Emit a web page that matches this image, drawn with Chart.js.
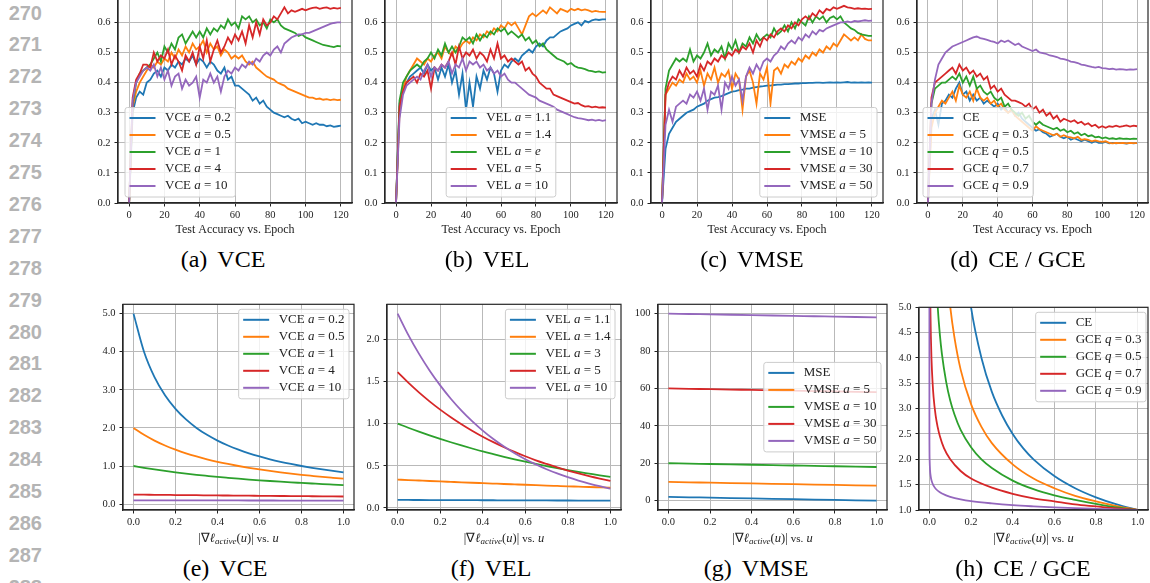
<!DOCTYPE html>
<html>
<head>
<meta charset="utf-8">
<script src="https://cdn.jsdelivr.net/npm/chart.js@4.4.1/dist/chart.umd.min.js"></script>
<style>
  html, body { margin: 0; padding: 0; background: #fff; }
  #page { position: relative; width: 1150px; height: 583px; overflow: hidden; background: #fff; }
  .ln { position: absolute; left: 0; width: 42px; text-align: right; font: bold 20px "Liberation Sans", Arial, sans-serif; color: #b4b4b4; transform: translateY(-50%); line-height: 1; }
  .cap { position: absolute; font: 24px "Liberation Serif", "Times New Roman", serif; color: #000; transform: translate(-50%, -50%); white-space: nowrap; line-height: 1; }
  .cap span { display: inline-block; width: 10px; }
  .xt { position: absolute; font: 12.5px "Liberation Serif", "Times New Roman", serif; color: #222; transform: translate(-50%, -50%); white-space: nowrap; line-height: 1; }
  .xt sub { font-size: 0.72em; vertical-align: -0.3em; line-height: 0; }
  .xt small { font-size: 0.88em; }
  .pane { position: absolute; }
</style>
</head>
<body>
<div id="page"></div>
<script>
// ---- top row: test accuracy every 2 epochs ----
const epochs = [0,2,4,6,8,10,12,14,16,18,20,22,24,26,28,30,32,34,36,38,40,42,44,46,48,50,52,54,56,58,
  60,62,64,66,68,70,72,74,76,78,80,82,84,86,88,90,92,94,96,98,100,102,104,106,108,110,112,114,116,118,120];

const vceA02 = [0.00,0.30,0.35,0.37,0.36,0.40,0.41,0.43,0.44,0.42,
  0.45,0.44,0.46,0.45,0.47,0.46,0.48,0.47,0.49,0.46,
  0.48,0.47,0.45,0.47,0.46,0.44,0.43,0.45,0.41,0.42,
  0.39,0.39,0.38,0.37,0.36,0.34,0.35,0.33,0.34,0.32,
  0.31,0.30,0.295,0.29,0.285,0.29,0.28,0.275,0.28,0.265,
  0.27,0.265,0.26,0.265,0.26,0.26,0.255,0.258,0.253,0.255,0.257];
const vceA05 = [0.00,0.32,0.37,0.40,0.42,0.44,0.46,0.45,0.47,0.46,
  0.48,0.47,0.50,0.48,0.51,0.49,0.52,0.50,0.53,0.51,
  0.52,0.54,0.50,0.53,0.51,0.52,0.49,0.51,0.50,0.48,
  0.49,0.48,0.49,0.47,0.46,0.47,0.45,0.44,0.43,0.42,
  0.415,0.41,0.40,0.395,0.39,0.38,0.375,0.37,0.365,0.36,
  0.355,0.35,0.35,0.345,0.347,0.343,0.345,0.342,0.344,0.342,0.343];
const vceA1 = [0.00,0.33,0.40,0.43,0.44,0.45,0.46,0.48,0.50,0.47,
  0.52,0.50,0.53,0.51,0.55,0.56,0.53,0.55,0.57,0.55,
  0.57,0.55,0.58,0.56,0.58,0.57,0.59,0.58,0.61,0.59,
  0.60,0.58,0.62,0.61,0.62,0.60,0.61,0.59,0.60,0.58,
  0.61,0.60,0.61,0.59,0.58,0.575,0.57,0.565,0.555,0.56,
  0.55,0.545,0.54,0.535,0.53,0.525,0.523,0.52,0.518,0.522,0.52];
const vceA4 = [0.00,0.35,0.41,0.43,0.46,0.46,0.45,0.50,0.47,0.49,
  0.48,0.51,0.46,0.49,0.47,0.44,0.49,0.47,0.50,0.46,
  0.52,0.48,0.54,0.47,0.51,0.54,0.50,0.52,0.55,0.53,
  0.56,0.54,0.57,0.53,0.59,0.55,0.60,0.56,0.61,0.59,
  0.60,0.62,0.61,0.63,0.65,0.63,0.64,0.635,0.64,0.645,
  0.64,0.645,0.648,0.65,0.645,0.648,0.65,0.645,0.648,0.646,0.648];
const vceA10 = [0.00,0.34,0.40,0.42,0.44,0.45,0.44,0.46,0.42,0.45,
  0.41,0.44,0.39,0.42,0.43,0.38,0.41,0.39,0.40,0.42,
  0.35,0.41,0.40,0.43,0.40,0.42,0.37,0.42,0.44,0.43,
  0.45,0.44,0.46,0.45,0.47,0.46,0.48,0.47,0.49,0.50,
  0.49,0.51,0.52,0.50,0.53,0.54,0.55,0.555,0.56,0.56,
  0.565,0.565,0.57,0.575,0.58,0.585,0.59,0.595,0.598,0.60,0.60];

const velA11 = [0.00,0.33,0.38,0.40,0.42,0.43,0.44,0.45,0.43,0.46,
  0.44,0.45,0.41,0.45,0.42,0.46,0.40,0.44,0.36,0.43,
  0.31,0.40,0.32,0.42,0.38,0.44,0.41,0.45,0.43,0.37,
  0.44,0.46,0.45,0.47,0.48,0.47,0.49,0.50,0.51,0.50,
  0.52,0.53,0.52,0.54,0.55,0.55,0.56,0.57,0.575,0.58,
  0.59,0.595,0.60,0.59,0.605,0.60,0.607,0.61,0.608,0.61,0.61];
const velA14 = [0.00,0.30,0.38,0.42,0.44,0.46,0.48,0.47,0.46,0.48,
  0.47,0.49,0.50,0.48,0.52,0.50,0.49,0.52,0.51,0.53,
  0.54,0.53,0.55,0.54,0.56,0.55,0.57,0.56,0.58,0.57,
  0.59,0.58,0.60,0.59,0.60,0.58,0.56,0.59,0.62,0.63,
  0.62,0.63,0.64,0.63,0.65,0.64,0.63,0.645,0.64,0.635,
  0.645,0.64,0.645,0.64,0.643,0.64,0.635,0.638,0.636,0.635,0.635];
const velAe = [0.00,0.34,0.40,0.42,0.44,0.45,0.46,0.45,0.47,0.48,
  0.50,0.48,0.51,0.49,0.53,0.50,0.52,0.50,0.52,0.55,
  0.54,0.55,0.53,0.56,0.54,0.56,0.55,0.57,0.56,0.58,
  0.57,0.58,0.56,0.57,0.56,0.55,0.56,0.54,0.55,0.53,
  0.54,0.52,0.53,0.51,0.50,0.49,0.48,0.475,0.47,0.46,
  0.465,0.455,0.45,0.448,0.445,0.44,0.438,0.435,0.437,0.433,0.435];
const velA5 = [0.00,0.32,0.37,0.40,0.41,0.42,0.40,0.43,0.42,0.44,
  0.38,0.45,0.44,0.46,0.45,0.47,0.50,0.46,0.52,0.48,
  0.50,0.49,0.51,0.48,0.50,0.49,0.47,0.51,0.48,0.53,
  0.48,0.49,0.47,0.48,0.47,0.46,0.47,0.44,0.45,0.43,
  0.42,0.40,0.39,0.38,0.38,0.36,0.355,0.35,0.345,0.34,
  0.335,0.33,0.332,0.325,0.32,0.322,0.318,0.32,0.317,0.318,0.317];
const velA10 = [0.00,0.28,0.36,0.39,0.40,0.41,0.42,0.41,0.44,0.46,
  0.42,0.45,0.44,0.46,0.45,0.47,0.43,0.46,0.45,0.48,
  0.44,0.47,0.46,0.47,0.45,0.46,0.44,0.45,0.43,0.44,
  0.42,0.43,0.41,0.40,0.40,0.39,0.38,0.37,0.36,0.355,
  0.35,0.34,0.335,0.33,0.325,0.32,0.31,0.305,0.30,0.295,
  0.29,0.285,0.282,0.28,0.278,0.275,0.277,0.274,0.276,0.273,0.275];

const mseAcc = [0.00,0.18,0.23,0.25,0.27,0.28,0.29,0.30,0.305,0.31,
  0.32,0.325,0.33,0.34,0.345,0.35,0.352,0.355,0.36,0.365,
  0.37,0.372,0.375,0.377,0.38,0.38,0.383,0.385,0.387,0.388,
  0.39,0.39,0.392,0.393,0.393,0.395,0.395,0.396,0.397,0.397,
  0.398,0.398,0.399,0.399,0.40,0.40,0.399,0.40,0.401,0.40,
  0.401,0.40,0.401,0.402,0.40,0.401,0.40,0.401,0.40,0.401,0.40];
const vmseA5 = [0.00,0.36,0.38,0.40,0.39,0.41,0.40,0.43,0.41,0.42,
  0.40,0.44,0.39,0.43,0.41,0.45,0.40,0.43,0.42,0.44,
  0.38,0.43,0.41,0.31,0.42,0.44,0.40,0.33,0.43,0.41,
  0.45,0.33,0.44,0.45,0.43,0.46,0.45,0.47,0.46,0.48,
  0.47,0.49,0.48,0.50,0.49,0.51,0.50,0.52,0.51,0.53,
  0.52,0.54,0.56,0.55,0.54,0.55,0.54,0.56,0.545,0.54,0.54];
const vmseA10 = [0.00,0.38,0.44,0.46,0.48,0.47,0.48,0.47,0.51,0.47,
  0.49,0.48,0.50,0.53,0.49,0.51,0.50,0.52,0.48,0.53,
  0.51,0.54,0.50,0.53,0.52,0.55,0.53,0.56,0.54,0.55,
  0.56,0.55,0.58,0.56,0.57,0.59,0.57,0.60,0.58,0.61,
  0.60,0.59,0.62,0.60,0.62,0.61,0.62,0.60,0.615,0.62,
  0.61,0.62,0.60,0.59,0.58,0.575,0.565,0.56,0.558,0.555,0.555];
const vmseA30 = [0.00,0.36,0.40,0.42,0.41,0.44,0.42,0.45,0.43,0.44,
  0.42,0.46,0.44,0.47,0.46,0.48,0.47,0.49,0.48,0.50,
  0.49,0.51,0.50,0.52,0.51,0.53,0.50,0.54,0.52,0.55,
  0.54,0.56,0.55,0.57,0.58,0.57,0.59,0.58,0.60,0.59,
  0.61,0.62,0.61,0.63,0.62,0.64,0.63,0.645,0.64,0.65,
  0.645,0.65,0.655,0.65,0.648,0.645,0.647,0.645,0.646,0.644,0.645];
const vmseA50 = [0.00,0.26,0.31,0.27,0.32,0.33,0.34,0.33,0.36,0.35,
  0.37,0.34,0.38,0.31,0.37,0.36,0.39,0.31,0.40,0.38,
  0.42,0.39,0.41,0.34,0.42,0.45,0.43,0.46,0.44,0.47,
  0.48,0.47,0.49,0.50,0.52,0.51,0.53,0.54,0.53,0.55,
  0.54,0.56,0.55,0.57,0.56,0.575,0.57,0.58,0.585,0.59,
  0.595,0.60,0.60,0.603,0.60,0.605,0.603,0.605,0.607,0.605,0.606];

const ceAcc = [0.00,0.28,0.31,0.26,0.33,0.34,0.36,0.35,0.38,0.40,
  0.36,0.37,0.34,0.36,0.34,0.35,0.33,0.34,0.33,0.32,
  0.33,0.31,0.32,0.30,0.31,0.29,0.30,0.28,0.27,0.26,
  0.25,0.24,0.245,0.235,0.23,0.22,0.225,0.23,0.22,0.215,
  0.22,0.21,0.215,0.21,0.205,0.21,0.205,0.20,0.205,0.20,
  0.20,0.203,0.198,0.20,0.198,0.20,0.199,0.197,0.20,0.198,0.20];
const gceQ03 = [0.00,0.25,0.30,0.32,0.34,0.33,0.35,0.37,0.34,0.39,
  0.36,0.35,0.37,0.34,0.38,0.35,0.34,0.35,0.33,0.34,
  0.32,0.33,0.31,0.30,0.31,0.29,0.28,0.27,0.26,0.25,
  0.24,0.255,0.245,0.24,0.235,0.23,0.225,0.23,0.22,0.225,
  0.22,0.218,0.215,0.22,0.21,0.212,0.21,0.205,0.208,0.205,
  0.203,0.205,0.20,0.198,0.20,0.199,0.20,0.198,0.20,0.199,0.199];
const gceQ05 = [0.00,0.33,0.38,0.39,0.40,0.40,0.41,0.42,0.41,0.43,
  0.40,0.42,0.39,0.42,0.38,0.39,0.37,0.36,0.37,0.35,
  0.34,0.35,0.32,0.33,0.31,0.30,0.29,0.30,0.28,0.29,
  0.27,0.26,0.27,0.26,0.255,0.25,0.245,0.25,0.24,0.245,
  0.235,0.24,0.23,0.235,0.225,0.23,0.222,0.225,0.218,0.22,
  0.215,0.218,0.213,0.215,0.212,0.215,0.213,0.214,0.212,0.214,0.213];
const gceQ07 = [0.00,0.35,0.40,0.41,0.42,0.43,0.44,0.45,0.43,0.46,
  0.44,0.45,0.43,0.44,0.42,0.43,0.41,0.42,0.38,0.39,
  0.37,0.38,0.36,0.35,0.34,0.34,0.335,0.33,0.32,0.33,
  0.31,0.32,0.30,0.31,0.29,0.30,0.28,0.29,0.27,0.28,
  0.275,0.27,0.275,0.265,0.27,0.26,0.265,0.255,0.26,0.25,
  0.255,0.25,0.255,0.253,0.257,0.253,0.255,0.258,0.254,0.257,0.255];
const gceQ09 = [0.00,0.33,0.41,0.46,0.48,0.50,0.51,0.52,0.525,0.53,
  0.535,0.54,0.545,0.55,0.553,0.548,0.545,0.542,0.538,0.535,
  0.53,0.54,0.535,0.54,0.532,0.525,0.53,0.52,0.515,0.51,
  0.505,0.51,0.50,0.498,0.495,0.49,0.488,0.485,0.48,0.478,
  0.475,0.47,0.468,0.465,0.46,0.458,0.455,0.452,0.45,0.452,
  0.448,0.447,0.445,0.446,0.443,0.445,0.444,0.442,0.444,0.443,0.445];

// ---- bottom row: gradient magnitude vs u ----
const uFine = [0,0.05,0.1,0.15,0.2,0.25,0.3,0.35,0.4,0.45,0.5,0.55,0.6,0.65,0.7,0.75,0.8,0.85,0.9,0.95,1];
const uCoarse = [0,0.1,0.2,0.3,0.4,0.5,0.6,0.7,0.8,0.9,1];

const vceGrad02 = [5.000,4.000,3.333,2.857,2.500,2.222,2.000,1.818,1.667,1.538,1.429,1.333,1.250,1.176,1.111,1.053,1.000,0.952,0.909,0.870,0.833];
const vceGrad05 = [2.000,1.818,1.667,1.538,1.429,1.333,1.250,1.176,1.111,1.053,1.000,0.952,0.909,0.870,0.833,0.800,0.769,0.741,0.714,0.690,0.667];
const vceGrad1 = [1.000,0.952,0.909,0.870,0.833,0.800,0.769,0.741,0.714,0.690,0.667,0.645,0.625,0.606,0.588,0.571,0.556,0.541,0.526,0.513,0.500];
const vceGrad4 = [0.250,0.247,0.244,0.241,0.238,0.235,0.233,0.230,0.227,0.225,0.222,0.220,0.217,0.215,0.213,0.211,0.208,0.206,0.204,0.202,0.200];
const vceGrad10 = [0.100,0.0995,0.0990,0.0985,0.0980,0.0976,0.0971,0.0966,0.0962,0.0957,0.0952,0.0948,0.0943,0.0939,0.0935,0.0930,0.0926,0.0922,0.0917,0.0913,0.0909];

const velGrad11 = [0.0953,0.0949,0.0944,0.0940,0.0935,0.0931,0.0926,0.0922,0.0917,0.0913,0.0909,0.0904,0.0900,0.0896,0.0891,0.0887,0.0883,0.0879,0.0875,0.0870,0.0866];
const velGrad14 = [0.3365,0.3309,0.3254,0.3199,0.3146,0.3094,0.3042,0.2991,0.2942,0.2893,0.2844,0.2797,0.2750,0.2704,0.2659,0.2615,0.2571,0.2529,0.2486,0.2445,0.2404];
const velGrad3 = [1.000,0.951,0.905,0.861,0.819,0.779,0.741,0.705,0.670,0.638,0.607,0.577,0.549,0.522,0.497,0.472,0.449,0.427,0.407,0.387,0.368];
const velGrad5 = [1.609,1.485,1.370,1.264,1.166,1.076,0.993,0.916,0.845,0.780,0.720,0.664,0.613,0.565,0.522,0.481,0.444,0.410,0.378,0.349,0.322];
const velGrad10 = [2.303,2.052,1.829,1.630,1.453,1.295,1.154,1.029,0.917,0.817,0.728,0.649,0.578,0.516,0.459,0.409,0.365,0.325,0.290,0.258,0.230];

const mseGrad = [2.0,1.8,1.6,1.4,1.2,1.0,0.8,0.6,0.4,0.2,0.0];
const vmseGrad5 = [10.0,9.8,9.6,9.4,9.2,9.0,8.8,8.6,8.4,8.2,8.0];
const vmseGrad10 = [20.0,19.8,19.6,19.4,19.2,19.0,18.8,18.6,18.4,18.2,18.0];
const vmseGrad30 = [60.0,59.8,59.6,59.4,59.2,59.0,58.8,58.6,58.4,58.2,58.0];
const vmseGrad50 = [100.0,99.8,99.6,99.4,99.2,99.0,98.8,98.6,98.4,98.2,98.0];

const ceU = [0.15,0.2,0.25,0.3,0.35,0.4,0.45,0.5,0.6,0.7,0.8,0.9,1.0];
const ceGrad = [6.67,5.0,4.0,3.33,2.86,2.5,2.22,2.0,1.67,1.43,1.25,1.11,1.0];
const gce03U = [0.08,0.1,0.12,0.15,0.2,0.25,0.3,0.4,0.5,0.6,0.7,0.8,0.9,1.0];
const gce03Grad = [5.86,5.01,4.41,3.77,3.09,2.64,2.32,1.90,1.62,1.43,1.28,1.17,1.077,1.0];
const gce05U = [0.03,0.04,0.05,0.06,0.08,0.1,0.12,0.15,0.2,0.25,0.3,0.4,0.5,0.6,0.7,0.8,0.9,1.0];
const gce05Grad = [5.77,5.0,4.47,4.08,3.54,3.16,2.89,2.58,2.24,2.0,1.83,1.58,1.41,1.29,1.20,1.12,1.05,1.0];
const gce07U = [0.004,0.005,0.007,0.01,0.015,0.02,0.03,0.04,0.05,0.07,0.1,0.15,0.2,0.3,0.4,0.5,0.6,0.7,0.8,0.9,1.0];
const gce07Grad = [5.24,4.90,4.43,3.98,3.53,3.23,2.86,2.63,2.46,2.22,2.0,1.77,1.62,1.44,1.32,1.23,1.17,1.11,1.07,1.03,1.0];
const gce09U = [0.0000001,0.000001,0.00001,0.0001,0.001,0.003,0.006,0.01,0.02,0.03,0.05,0.08,0.1,0.15,0.2,0.3,0.4,0.5,0.6,0.7,0.8,0.9,1.0];
const gce09Grad = [5.01,3.98,3.16,2.51,2.0,1.79,1.67,1.585,1.48,1.42,1.35,1.29,1.26,1.21,1.175,1.13,1.096,1.072,1.052,1.036,1.023,1.011,1.0];

// ---- labels and ticks ----
const vceLabels = ['VCE a = 0.2', 'VCE a = 0.5', 'VCE a = 1', 'VCE a = 4', 'VCE a = 10'];
const velAccLabels = ['VEL a = 1.1', 'VEL a = 1.4', 'VEL a = e', 'VEL a = 5', 'VEL a = 10'];
const velGradLabels = ['VEL a = 1.1', 'VEL a = 1.4', 'VEL a = 3', 'VEL a = 5', 'VEL a = 10'];
const vmseLabels = ['MSE', 'VMSE a = 5', 'VMSE a = 10', 'VMSE a = 30', 'VMSE a = 50'];
const gceLabels = ['CE', 'GCE q = 0.3', 'GCE q = 0.5', 'GCE q = 0.7', 'GCE q = 0.9'];

const epochTicks = [0, 20, 40, 60, 80, 100, 120];
const accTicks = [0, 0.1, 0.2, 0.3, 0.4, 0.5, 0.6];
const uTicks = [0, 0.2, 0.4, 0.6, 0.8, 1.0];
const vceGradTicks = [0, 1, 2, 3, 4, 5];
const velGradTicks = [0, 0.5, 1.0, 1.5, 2.0];
const vmseGradTicks = [0, 20, 40, 60, 80, 100];
const gceGradTicks = [1.0, 1.5, 2.0, 2.5, 3.0, 3.5, 4.0, 4.5, 5.0];

const captionTags = ['(a)', '(b)', '(c)', '(d)', '(e)', '(f)', '(g)', '(h)'];
const captionNames = ['VCE', 'VEL', 'VMSE', 'CE / GCE', 'VCE', 'VEL', 'VMSE', 'CE / GCE'];
const lineNumbers = [270,271,272,273,274,275,276,277,278,279,280,281,282,283,284,285,286,287,288];

const colors = ['#1f77b4', '#ff7f0e', '#2ca02c', '#d62728', '#9467bd'];
const SERIF = '"Liberation Serif", "Times New Roman", serif';
const INK = '#222';
const GRID = '#b9b9b9';
const SPINE = '#262626';

const page = document.getElementById('page');

// legend label: single letters become math italic
function labelParts(label) {
  return label.split(' ').map((t, i) => ({ text: (i ? ' ' : '') + t, italic: /^[aqe]$/.test(t) }));
}
function partFont(p, size) {
  return (p.italic ? 'italic ' : '') + size + 'px ' + SERIF;
}

function roundBox(ctx, x, y, w, h, r) {
  ctx.beginPath();
  ctx.moveTo(x + r, y);
  ctx.lineTo(x + w - r, y);
  ctx.arcTo(x + w, y, x + w, y + r, r);
  ctx.lineTo(x + w, y + h - r);
  ctx.arcTo(x + w, y + h, x + w - r, y + h, r);
  ctx.lineTo(x + r, y + h);
  ctx.arcTo(x, y + h, x, y + h - r, r);
  ctx.lineTo(x, y + r);
  ctx.arcTo(x, y, x + r, y, r);
  ctx.closePath();
}

function drawLegend(chart, o) {
  const { ctx, chartArea: a } = chart;
  const size = 13, rowH = 17, padTop = 10.5, padBot = 11, handle = 26;
  const items = chart.data.datasets.map(d => ({ parts: labelParts(d.label), color: d.borderColor }));
  let maxW = 0;
  items.forEach(it => {
    let w = 0;
    it.parts.forEach(p => { ctx.font = partFont(p, size); w += ctx.measureText(p.text).width; });
    maxW = Math.max(maxW, w);
  });
  const bw = 4.5 + handle + 9.5 + maxW + 4.5;
  const bh = padTop + (items.length - 1) * rowH + padBot;
  let bx, by;
  if (o.anchor === 'll') { bx = a.left + o.dx; by = a.bottom - o.dy - bh; }
  else if (o.anchor === 'lc') { bx = (a.left + a.right) / 2 - bw / 2; by = a.bottom - o.dy - bh; }
  else if (o.anchor === 'lr') { bx = a.right - o.dx - bw; by = a.bottom - o.dy - bh; }
  else if (o.anchor === 'ur') { bx = a.right - o.dx - bw; by = a.top + o.dy; }
  else { bx = a.right - o.dx - bw; by = (a.top + a.bottom) / 2 - bh / 2; }

  roundBox(ctx, bx, by, bw, bh, 2.5);
  ctx.fillStyle = 'rgba(255,255,255,0.8)';
  ctx.fill();
  ctx.strokeStyle = '#cccccc';
  ctx.lineWidth = 1;
  ctx.stroke();

  ctx.textBaseline = 'middle';
  ctx.textAlign = 'left';
  items.forEach((it, i) => {
    const y = by + padTop + i * rowH;
    ctx.strokeStyle = it.color;
    ctx.lineWidth = 2;
    ctx.beginPath();
    ctx.moveTo(bx + 4.5, y);
    ctx.lineTo(bx + 4.5 + handle, y);
    ctx.stroke();
    let x = bx + 4.5 + handle + 9.5;
    ctx.fillStyle = INK;
    it.parts.forEach(p => {
      ctx.font = partFont(p, size);
      ctx.fillText(p.text, x, y);
      x += ctx.measureText(p.text).width;
    });
  });
}

const frameLegend = {
  id: 'frameLegend',
  afterDraw(chart, args, opts) {
    const { ctx, chartArea: a } = chart;
    ctx.save();
    ctx.strokeStyle = SPINE;
    ctx.lineWidth = 1.2;
    ctx.strokeRect(a.left, a.top, a.right - a.left, a.bottom - a.top);
    if (opts && opts.anchor) drawLegend(chart, opts);
    ctx.restore();
  }
};

const YW = 32, XH = 34, PT = 8, PR = 4;

function buildChart(p) {
  const [L, T, R, B] = p.box;
  const w = YW + (R - L) + PR, h = PT + (B - T) + XH;
  const div = document.createElement('div');
  div.className = 'pane';
  div.style.left = (L - YW) + 'px';
  div.style.top = (T - PT) + 'px';
  const cv = document.createElement('canvas');
  cv.width = w; cv.height = h;
  cv.style.width = w + 'px'; cv.style.height = h + 'px';
  div.appendChild(cv);
  page.appendChild(div);

  const tickFont = { family: SERIF, size: 10.5 };
  const gridOpts = { color: GRID, lineWidth: 1, tickColor: INK, tickLength: 3.5, tickWidth: 1, drawTicks: true };

  new Chart(cv.getContext('2d'), {
    type: 'line',
    data: {
      datasets: p.series.map((ys, i) => ({
        label: p.labels[i],
        data: p.xs[i].map((x, j) => ({ x: x, y: ys[j] })),
        borderColor: colors[i],
        backgroundColor: colors[i],
        borderWidth: 1.8,
        pointRadius: 0,
        fill: false,
        tension: 0,
        cubicInterpolationMode: p.smooth ? 'monotone' : 'default',
        order: 10 - i
      }))
    },
    options: {
      responsive: false,
      animation: false,
      devicePixelRatio: 1,
      layout: { autoPadding: false, padding: { top: PT, right: PR, left: 0, bottom: 0 } },
      plugins: {
        legend: { display: false },
        tooltip: { enabled: false },
        frameLegend: p.legend
      },
      scales: {
        x: {
          type: 'linear',
          min: p.xRange[0],
          max: p.xRange[1],
          afterFit: s => { s.height = XH; },
          afterBuildTicks: s => { s.ticks = p.xTicks.map(v => ({ value: v })); },
          ticks: { callback: v => v.toFixed(p.xDigits), font: tickFont, color: INK, padding: 2, maxRotation: 0, autoSkip: false },
          grid: gridOpts,
          border: { color: SPINE, width: 1.2 },
          title: p.xTitle
            ? { display: true, text: p.xTitle, font: { family: SERIF, size: 12 }, color: INK, padding: { top: 0, bottom: 0 } }
            : { display: false }
        },
        y: {
          type: 'linear',
          min: p.yRange[0],
          max: p.yRange[1],
          afterFit: s => { s.width = YW; },
          afterBuildTicks: s => { s.ticks = p.yTicks.map(v => ({ value: v })); },
          ticks: { callback: v => v.toFixed(p.yDigits), font: tickFont, color: INK, padding: 4, autoSkip: false },
          grid: gridOpts,
          border: { color: SPINE, width: 1.2 }
        }
      }
    },
    plugins: [frameLegend]
  });
}

const accTitle = 'Test Accuracy vs. Epoch';
const ep5 = [epochs, epochs, epochs, epochs, epochs];
const uf5 = [uFine, uFine, uFine, uFine, uFine];
const uc5 = [uCoarse, uCoarse, uCoarse, uCoarse, uCoarse];

const panels = [
  { box: [118, -7, 352, 203], xs: ep5, series: [vceA02, vceA05, vceA1, vceA4, vceA10], labels: vceLabels,
    xRange: [-6.3, 126.3], xTicks: epochTicks, xDigits: 0, yRange: [0, 0.69], yTicks: accTicks, yDigits: 1,
    xTitle: accTitle, legend: { anchor: 'll', dx: 7, dy: 6 } },
  { box: [385, -7, 617, 203], xs: ep5, series: [velA11, velA14, velAe, velA5, velA10], labels: velAccLabels,
    xRange: [-6.3, 126.3], xTicks: epochTicks, xDigits: 0, yRange: [0, 0.69], yTicks: accTicks, yDigits: 1,
    xTitle: accTitle, legend: { anchor: 'lc', dx: 0, dy: 6 } },
  { box: [651, -7, 883, 203], xs: ep5, series: [mseAcc, vmseA5, vmseA10, vmseA30, vmseA50], labels: vmseLabels,
    xRange: [-6.3, 126.3], xTicks: epochTicks, xDigits: 0, yRange: [0, 0.69], yTicks: accTicks, yDigits: 1,
    xTitle: accTitle, legend: { anchor: 'lr', dx: 6, dy: 6 } },
  { box: [917, -7, 1148, 203], xs: ep5, series: [ceAcc, gceQ03, gceQ05, gceQ07, gceQ09], labels: gceLabels,
    xRange: [-6.3, 126.3], xTicks: epochTicks, xDigits: 0, yRange: [0, 0.69], yTicks: accTicks, yDigits: 1,
    xTitle: accTitle, legend: { anchor: 'll', dx: 6, dy: 6 } },
  { box: [123, 302, 354, 510], xs: uf5, series: [vceGrad02, vceGrad05, vceGrad1, vceGrad4, vceGrad10], labels: vceLabels,
    xRange: [-0.05, 1.05], xTicks: uTicks, xDigits: 1, yRange: [-0.155, 5.245], yTicks: vceGradTicks, yDigits: 1,
    smooth: true, legend: { anchor: 'ur', dx: 5, dy: 5 } },
  { box: [387, 302, 621, 510], xs: uf5, series: [velGrad11, velGrad14, velGrad3, velGrad5, velGrad10], labels: velGradLabels,
    xRange: [-0.05, 1.05], xTicks: uTicks, xDigits: 1, yRange: [-0.024, 2.414], yTicks: velGradTicks, yDigits: 1,
    smooth: true, legend: { anchor: 'ur', dx: 6, dy: 5 } },
  { box: [658, 302, 887, 510], xs: uc5, series: [mseGrad, vmseGrad5, vmseGrad10, vmseGrad30, vmseGrad50], labels: vmseLabels,
    xRange: [-0.05, 1.05], xTicks: uTicks, xDigits: 1, yRange: [-5, 105], yTicks: vmseGradTicks, yDigits: 0,
    smooth: true, legend: { anchor: 'cr', dx: 6, dy: 0 } },
  { box: [919, 305, 1148, 510], xs: [ceU, gce03U, gce05U, gce07U, gce09U], series: [ceGrad, gce03Grad, gce05Grad, gce07Grad, gce09Grad], labels: gceLabels,
    xRange: [-0.05, 1.05], xTicks: uTicks, xDigits: 1, yRange: [1, 5], yTicks: gceGradTicks, yDigits: 1,
    smooth: true, legend: { anchor: 'ur', dx: 2, dy: 5 } }
];

panels.forEach(buildChart);

// line numbers down the margin
lineNumbers.forEach((n, k) => {
  const d = document.createElement('div');
  d.className = 'ln';
  d.style.top = (12.5 + k * 31.9) + 'px';
  d.textContent = n;
  page.appendChild(d);
});

// bottom-row axis titles
[0, 1, 2, 3].forEach(i => {
  const b = panels[4 + i].box;
  const d = document.createElement('div');
  d.className = 'xt';
  d.style.left = ((b[0] + b[2]) / 2) + 'px';
  d.style.top = '538px';
  d.innerHTML = '|&nabla;<i>&#8467;</i><sub><i>active</i></sub>(<i>u</i>)| <small>vs.</small> <i>u</i>';
  page.appendChild(d);
});

// sub-figure captions
const capX = [223, 487, 752, 1018, 225, 491, 756, 1023];
captionTags.forEach((tag, i) => {
  const d = document.createElement('div');
  d.className = 'cap';
  d.style.left = capX[i] + 'px';
  d.style.top = (i < 4 ? 259 : 568) + 'px';
  d.innerHTML = tag + '<span></span>' + captionNames[i];
  page.appendChild(d);
});
</script>
</body>
</html>
